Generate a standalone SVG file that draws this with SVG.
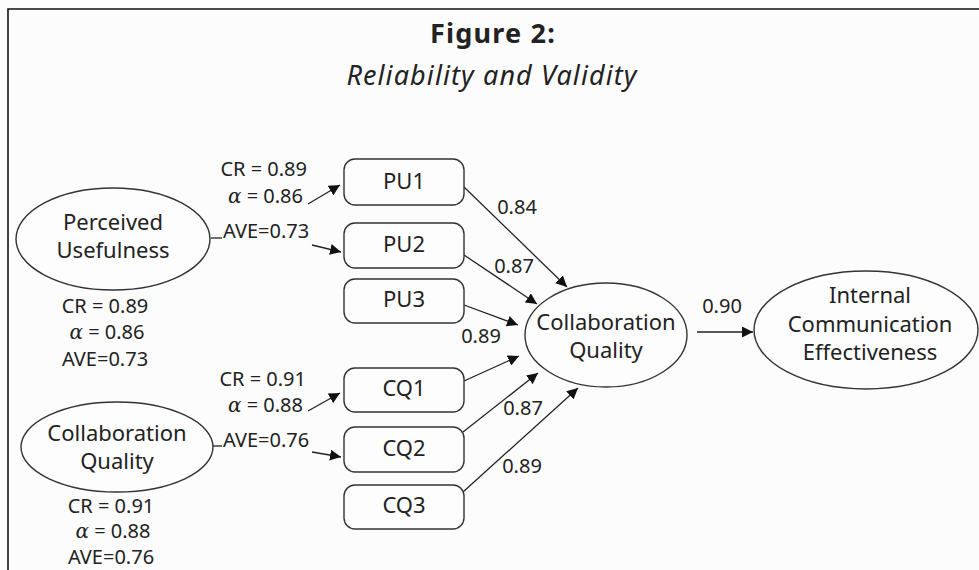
<svg xmlns="http://www.w3.org/2000/svg" width="979" height="570" viewBox="0 0 979 570">
<style>
text{font-family:"Noto Sans","Open Sans","DejaVu Sans",sans-serif;fill:#222;}
.t{font-size:22px;text-anchor:middle;}
.s{font-size:20px;}
.m{text-anchor:middle;}
.e{fill:#fdfdfd;stroke:#333;stroke-width:1.4;}
.b{fill:#fdfdfd;stroke:#333;stroke-width:1.4;}
.c{stroke:#222;stroke-width:1.3;fill:none;}
.a{font-style:italic;font-family:"DejaVu Serif","Liberation Serif",serif;}
</style>
<defs>
<marker id="ar" viewBox="0 0 10 10" refX="10" refY="5" markerWidth="11" markerHeight="11" markerUnits="userSpaceOnUse" orient="auto">
<path d="M0,0 L10,5 L0,10 z" fill="#111"/>
</marker>
</defs>
<rect x="0" y="0" width="979" height="570" fill="#fcfcfc"/>
<path d="M8,570 L8,9 L979,9" fill="none" stroke="#111" stroke-width="1.6"/>
<g id="title">
<text x="493" y="43" text-anchor="middle" style="font-size:27px;font-weight:bold;letter-spacing:1.2px">Figure 2:</text>
<text x="492" y="85" text-anchor="middle" style="font-size:27px;font-style:italic;letter-spacing:1.1px">Reliability and Validity</text>
</g>
<g id="connectors">
<line class="c" x1="211" y1="238" x2="222" y2="238"/>
<line class="c" x1="308" y1="204" x2="340" y2="185" marker-end="url(#ar)"/>
<line class="c" x1="312" y1="245" x2="341" y2="252" marker-end="url(#ar)"/>
<line class="c" x1="211" y1="446" x2="222" y2="446"/>
<line class="c" x1="308" y1="411" x2="340" y2="393" marker-end="url(#ar)"/>
<line class="c" x1="312" y1="452" x2="341" y2="457" marker-end="url(#ar)"/>
<line class="c" x1="464" y1="187" x2="567" y2="287" marker-end="url(#ar)"/>
<line class="c" x1="464" y1="255" x2="537" y2="304" marker-end="url(#ar)"/>
<line class="c" x1="464" y1="305" x2="518" y2="325" marker-end="url(#ar)"/>
<line class="c" x1="464" y1="381" x2="519" y2="356" marker-end="url(#ar)"/>
<line class="c" x1="463" y1="432" x2="538" y2="373" marker-end="url(#ar)"/>
<line class="c" x1="463" y1="492" x2="578" y2="388" marker-end="url(#ar)"/>
<line class="c" x1="697" y1="332" x2="753" y2="332" marker-end="url(#ar)"/>
<text class="s m" x="517" y="214">0.84</text>
<text class="s m" x="514" y="273">0.87</text>
<text class="s m" x="481" y="343">0.89</text>
<text class="s m" x="523" y="415">0.87</text>
<text class="s m" x="522" y="473">0.89</text>
<text class="s m" x="722" y="313">0.90</text>
</g>
<g id="pu">
<ellipse class="e" cx="113" cy="239" rx="97" ry="51"/>
<text class="t" x="113" y="229.5">Perceived</text>
<text class="t" x="113" y="257.5">Usefulness</text>
<text class="s m" x="105" y="313">CR = 0.89</text>
<text class="s m" x="107" y="339"><tspan class="a">α</tspan> = 0.86</text>
<text class="s m" x="105" y="366">AVE=0.73</text>
<text class="s" x="307" y="176" text-anchor="end">CR = 0.89</text>
<text class="s" x="303" y="203" text-anchor="end"><tspan class="a">α</tspan> = 0.86</text>
<text class="s" x="223" y="238">AVE=0.73</text>
</g>
<g id="cq">
<ellipse class="e" cx="117" cy="447" rx="96" ry="45"/>
<text class="t" x="117" y="440.5">Collaboration</text>
<text class="t" x="117" y="468.5">Quality</text>
<text class="s m" x="111" y="513">CR = 0.91</text>
<text class="s m" x="113" y="538"><tspan class="a">α</tspan> = 0.88</text>
<text class="s m" x="111" y="564">AVE=0.76</text>
<text class="s" x="306" y="386" text-anchor="end">CR = 0.91</text>
<text class="s" x="303" y="412" text-anchor="end"><tspan class="a">α</tspan> = 0.88</text>
<text class="s" x="223" y="447">AVE=0.76</text>
</g>
<g id="PU1"><rect class="b" x="344" y="159" width="120" height="46" rx="11"/><text class="t" x="404" y="189">PU1</text></g>
<g id="PU2"><rect class="b" x="344" y="223" width="120" height="45" rx="11"/><text class="t" x="404" y="252">PU2</text></g>
<g id="PU3"><rect class="b" x="344" y="279" width="120" height="44" rx="11"/><text class="t" x="404" y="307">PU3</text></g>
<g id="CQ1"><rect class="b" x="344" y="368" width="120" height="44" rx="11"/><text class="t" x="404" y="396">CQ1</text></g>
<g id="CQ2"><rect class="b" x="344" y="427" width="120" height="45" rx="11"/><text class="t" x="404" y="456">CQ2</text></g>
<g id="CQ3"><rect class="b" x="344" y="485" width="120" height="44" rx="11"/><text class="t" x="404" y="513">CQ3</text></g>
<g id="collab">
<ellipse class="e" cx="606" cy="335" rx="81" ry="52"/>
<text class="t" x="606" y="329.5">Collaboration</text>
<text class="t" x="606" y="357.5">Quality</text>
</g>
<g id="ice">
<ellipse class="e" cx="866" cy="330" rx="112" ry="59"/>
<text class="t" x="870" y="303">Internal</text>
<text class="t" x="870" y="332">Communication</text>
<text class="t" x="870" y="360">Effectiveness</text>
</g>
</svg>
